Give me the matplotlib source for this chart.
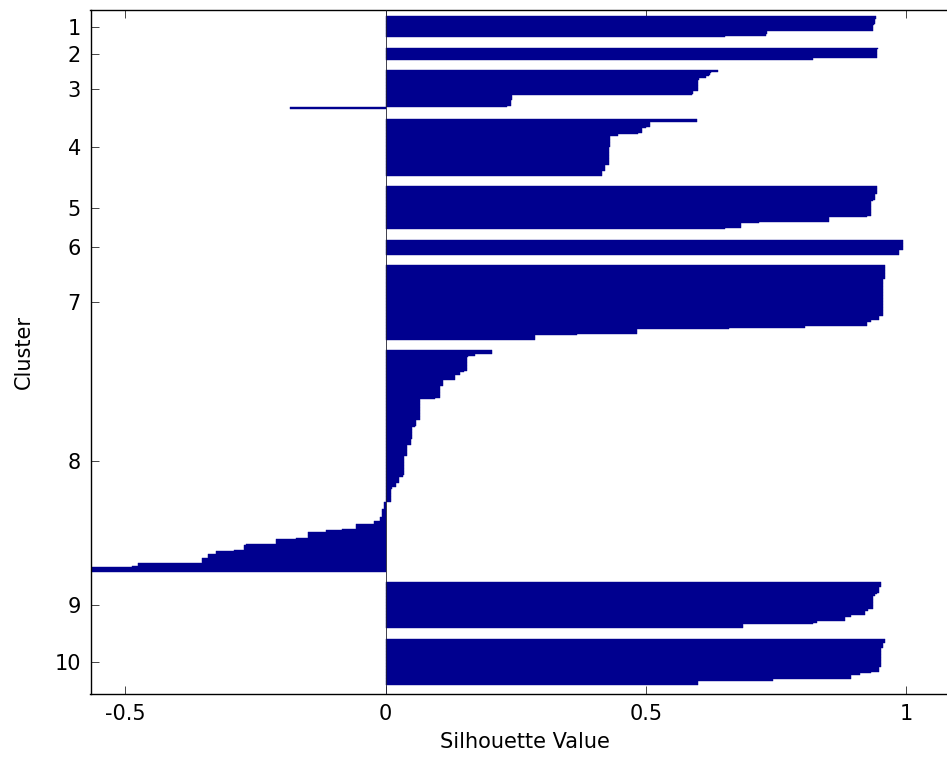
import numpy as np
import matplotlib
matplotlib.use("Agg")
import matplotlib.pyplot as plt

# Silhouette values per cluster, sorted in descending order
cluster_names = ["1", "2", "3", "4", "5", "6", "7", "8", "9", "10"]

c1 = [0.942, 0.941, 0.940, 0.940, 0.939, 0.937, 0.936, 0.936, 0.935, 0.935,
      0.733, 0.732, 0.731, 0.652]

c2 = [0.945, 0.944, 0.944, 0.944, 0.943, 0.943, 0.943, 0.821]

c3 = [0.638, 0.624, 0.622, 0.621, 0.616, 0.601, 0.601, 0.600, 0.600, 0.600,
      0.600, 0.600, 0.599, 0.599, 0.590, 0.590, 0.589, 0.242, 0.242, 0.242,
      0.241, 0.241, 0.241, 0.240, 0.233, -0.183]

c4 = [0.598, 0.597, 0.508, 0.508, 0.507, 0.500, 0.493, 0.493, 0.492, 0.485,
      0.446, 0.431, 0.431, 0.431, 0.431, 0.431, 0.431, 0.431, 0.431, 0.429,
      0.429, 0.429, 0.429, 0.429, 0.429, 0.429, 0.429, 0.429, 0.429, 0.429,
      0.429, 0.421, 0.421, 0.421, 0.421, 0.415, 0.415, 0.415]

c5 = [0.944, 0.944, 0.944, 0.944, 0.944, 0.940, 0.940, 0.940, 0.940, 0.936,
      0.932, 0.932, 0.932, 0.932, 0.932, 0.932, 0.932, 0.932, 0.932, 0.932,
      0.925, 0.852, 0.852, 0.852, 0.717, 0.683, 0.683, 0.683, 0.652]

c6 = [0.994, 0.994, 0.994, 0.994, 0.994, 0.994, 0.994, 0.986, 0.986, 0.986]

c7 = [0.959, 0.959, 0.959, 0.959, 0.959, 0.959, 0.959, 0.959, 0.959,
      0.955, 0.955, 0.955, 0.955, 0.955, 0.955, 0.955, 0.955, 0.955, 0.955,
      0.955, 0.955, 0.955, 0.955, 0.955, 0.955, 0.955, 0.955, 0.955, 0.955,
      0.955, 0.955, 0.955, 0.955, 0.955,
      0.948, 0.948, 0.948, 0.932, 0.925, 0.925, 0.925, 0.806, 0.660,
      0.483, 0.483, 0.483, 0.368, 0.287, 0.287, 0.287]

c8 = [0.204, 0.204, 0.204, 0.172, 0.158, 0.156, 0.156, 0.156, 0.156, 0.156,
      0.156, 0.156, 0.156, 0.156, 0.151, 0.143, 0.143, 0.133, 0.133, 0.133,
      0.110, 0.110, 0.110, 0.110, 0.104, 0.104, 0.104, 0.104, 0.104, 0.104,
      0.104, 0.104, 0.095, 0.066, 0.066, 0.066, 0.066, 0.066, 0.066, 0.066,
      0.066, 0.066, 0.066, 0.066, 0.066, 0.066, 0.066, 0.058, 0.058,
      0.058, 0.058, 0.057, 0.051, 0.051, 0.051, 0.051, 0.051, 0.051, 0.051,
      0.051, 0.049, 0.049, 0.049, 0.049, 0.041, 0.041, 0.041, 0.041, 0.041,
      0.041, 0.041, 0.035, 0.035, 0.035, 0.035, 0.035, 0.035, 0.035, 0.035,
      0.035, 0.035, 0.035, 0.035, 0.035, 0.033, 0.025, 0.025, 0.025, 0.025,
      0.020, 0.020, 0.020, 0.012, 0.010, 0.010, 0.010, 0.010, 0.010, 0.010,
      0.010, 0.010, 0.010,
      -0.003, -0.003, -0.003, -0.003, -0.003, -0.007, -0.007, -0.007, -0.007,
      -0.007, -0.011, -0.011, -0.011, -0.022, -0.022, -0.057, -0.057, -0.057,
      -0.084, -0.115, -0.149, -0.149, -0.149, -0.149, -0.172, -0.210, -0.210,
      -0.210, -0.268, -0.272, -0.272, -0.272, -0.291, -0.326, -0.326, -0.341,
      -0.341, -0.341, -0.352, -0.352, -0.352, -0.475, -0.475, -0.487, -0.567,
      -0.567, -0.567]

c9 = [0.952, 0.952, 0.952, 0.947, 0.947, 0.947, 0.947, 0.943, 0.939, 0.935,
      0.935, 0.935, 0.935, 0.935, 0.935, 0.935, 0.935, 0.935, 0.927, 0.920,
      0.920, 0.920, 0.894, 0.882, 0.882, 0.882, 0.828, 0.820, 0.686, 0.686,
      0.686]

c10 = [0.959, 0.959, 0.959, 0.955, 0.955, 0.955, 0.952, 0.952, 0.952, 0.952,
       0.952, 0.952, 0.952, 0.952, 0.952, 0.952, 0.952, 0.952, 0.952, 0.948,
       0.948, 0.948, 0.932, 0.910, 0.894, 0.894, 0.894, 0.744, 0.599, 0.599,
       0.599]

clusters = [c1, c2, c3, c4, c5, c6, c7, c8, c9, c10]

x_ticks = [-0.5, 0, 0.5, 1]
x_tick_labels = ["-0.5", "0", "0.5", "1"]

BAR_COLOR = "#00008F"

# Stack the clusters top to bottom, with empty rows between groups
space = 7
positions, values, centers = [], [], []
row = space
for vals in clusters:
    idx = np.arange(row + 1, row + 1 + len(vals))
    positions.extend(idx)
    values.extend(vals)
    centers.append(idx.mean())
    row += len(vals) + space
positions = np.array(positions)
values = np.array(values)

plt.rcParams["font.family"] = ["DejaVu Sans"]

fig = plt.figure(figsize=(9.47, 7.60), dpi=100)
ax = fig.add_axes([90.5 / 947, 66 / 760, 868 / 947, 683.5 / 760])

ax.barh(positions, values, height=1.0, color=BAR_COLOR,
        edgecolor=BAR_COLOR, linewidth=0.3, zorder=2)
ax.axvline(0, color="#202030", linewidth=0.6, zorder=3)

ax.set_xlim(values.min(), 1.1)
ax.set_ylim(positions.max() + 6.5, positions.min() - 4.5)

ax.set_xticks(x_ticks)
ax.set_xticklabels(x_tick_labels)
ax.set_yticks(centers)
ax.set_yticklabels(cluster_names)

ax.tick_params(axis="both", direction="in", length=6, width=0.7,
               color="#444444", labelsize=15, pad=7,
               top=True, right=True)
for side in ("left", "bottom", "top", "right"):
    ax.spines[side].set_linewidth(1.0)
    ax.spines[side].set_color("black")

ax.set_xlabel("Silhouette Value", fontsize=15, labelpad=6)
ax.set_ylabel("Cluster", fontsize=15, labelpad=15)

fig.savefig("out.png", dpi=100)
